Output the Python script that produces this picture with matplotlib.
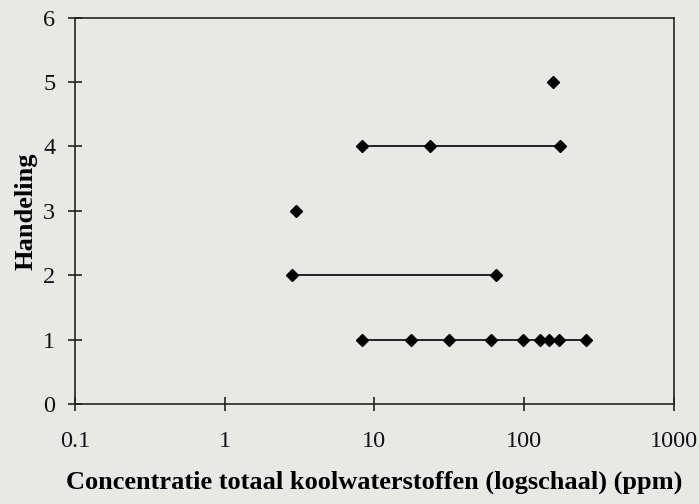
import matplotlib.pyplot as plt

# concentraties (ppm) per handeling
h1 = [8.3, 17.7, 31.5, 60, 99, 128, 147, 171, 260]
h2 = [2.8, 65]
h3 = [3.0]
h4 = [8.3, 23.7, 173]
h5 = [155]
series = [(1, h1), (2, h2), (3, h3), (4, h4), (5, h5)]

bg = '#e8e8e6'
plt.rcParams['font.family'] = ['Liberation Serif', 'DejaVu Serif']

fig = plt.figure(figsize=(6.99, 5.04), dpi=100, facecolor=bg)
ax = fig.add_axes([0.107, 0.198, 0.857, 0.767], facecolor=bg)

for level, xs in series:
    ax.plot(xs, [level] * len(xs), color='#222222', linewidth=1.4,
            marker='D', markersize=6, markerfacecolor='black',
            markeredgecolor='black')

ax.set_xscale('log')
ax.set_xlim(0.1, 1000)
ax.set_ylim(0, 6)
ax.set_xticks([0.1, 1, 10, 100, 1000])
ax.set_xticklabels(['0.1', '1', '10', '100', '1000'])
ax.minorticks_off()
ax.set_yticks(range(7))

for s in ax.spines.values():
    s.set_linewidth(1.2)
    s.set_color('#222222')

ax.tick_params(axis='both', direction='inout', length=10, width=1.1,
               labelsize=17.5, colors='#111111')
ax.tick_params(axis='x', pad=14)
ax.tick_params(axis='y', pad=9)

ax.set_xlabel('Concentratie totaal koolwaterstoffen (logschaal) (ppm)',
              fontsize=19, fontweight='bold', labelpad=14)
ax.set_ylabel('Handeling', fontsize=19, fontweight='bold', labelpad=4)

fig.savefig('out.png', dpi=100, facecolor=bg)
